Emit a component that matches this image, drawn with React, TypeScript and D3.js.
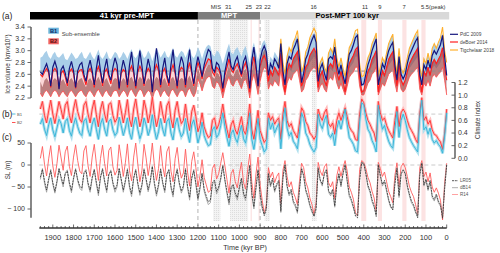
import React from "react";
import * as d3 from "d3";

// time grid (kyr BP), 10-kyr steps from 1960 to 0
const tA: number[] = d3.range(1960, -1, -10);
const tTig: number[] = d3.range(820, -1, -10);

// (a) ice volume (km3 x 10^7)
const pdc = [
2.64,2.6,2.7,2.78,2.66,2.4,2.72,2.82,2.7,2.35,
2.68,2.74,2.62,2.45,2.7,2.82,2.66,2.38,2.66,2.76,
2.8,2.6,2.48,2.7,2.84,2.66,2.42,2.7,2.92,2.66,
2.45,2.7,2.86,2.6,2.5,2.72,2.88,2.76,2.36,2.66,
2.84,2.7,2.42,2.76,2.98,2.66,2.4,2.7,3.0,2.74,
2.44,2.66,2.86,2.7,2.3,2.72,3.04,2.76,2.42,2.7,
2.88,2.6,2.45,2.76,3.02,2.66,2.4,2.72,2.9,2.78,
2.42,2.76,3.02,2.66,2.44,2.72,2.9,2.76,2.56,2.76,
2.9,3.02,2.98,2.7,2.64,2.8,2.76,2.62,2.36,2.64,
2.82,2.98,2.74,2.68,2.82,2.9,2.74,2.6,2.82,2.9,
2.7,2.36,2.84,3.06,2.76,2.4,2.84,3.0,3.08,2.98,
2.58,2.78,2.7,2.86,2.8,2.7,3.12,2.66,2.42,2.78,
2.9,2.86,3.02,3.1,3.2,2.86,2.46,2.62,2.86,2.94,
3.08,3.18,3.26,3.14,2.48,2.7,2.78,2.62,2.5,2.86,
2.9,2.86,3.06,2.78,2.6,2.76,2.58,2.44,2.7,2.94,
3.0,3.1,3.22,3.26,2.66,2.42,2.44,2.6,2.76,2.86,
3.0,3.1,3.2,2.42,2.6,2.78,2.7,2.86,3.0,3.08,
3.14,2.76,2.5,2.9,2.6,2.52,2.6,2.78,2.92,3.0,
3.08,3.16,3.22,2.6,2.42,2.76,2.68,2.84,2.7,2.92,
3.0,2.94,3.02,3.1,3.26,2.9,2.58];

const deBoer = [
2.6,2.56,2.64,2.7,2.63,2.38,2.65,2.7,2.64,2.36,
2.62,2.66,2.56,2.4,2.64,2.69,2.62,2.36,2.62,2.67,
2.68,2.55,2.42,2.64,2.7,2.62,2.38,2.64,2.73,2.62,
2.4,2.64,2.69,2.56,2.44,2.64,2.7,2.66,2.34,2.62,
2.68,2.64,2.38,2.66,2.74,2.62,2.36,2.64,2.74,2.66,
2.4,2.62,2.7,2.64,2.3,2.65,2.76,2.67,2.38,2.64,
2.7,2.55,2.4,2.66,2.76,2.62,2.36,2.64,2.72,2.68,
2.38,2.67,2.8,2.62,2.4,2.65,2.8,2.7,2.52,2.7,
2.78,2.86,2.84,2.64,2.58,2.72,2.68,2.58,2.3,2.58,
2.72,2.86,2.68,2.63,2.72,2.78,2.68,2.56,2.72,2.8,
2.64,2.3,2.74,2.9,2.68,2.4,2.74,2.86,2.92,2.82,
2.48,2.66,2.58,2.72,2.66,2.58,2.96,2.56,2.3,2.64,
2.78,2.72,2.86,2.92,2.98,2.72,2.4,2.5,2.72,2.78,
2.92,2.98,3.04,2.96,2.38,2.58,2.65,2.5,2.4,2.72,
2.78,2.72,2.92,2.65,2.5,2.65,2.5,2.3,2.58,2.78,
2.85,2.92,3.02,3.06,2.56,2.3,2.32,2.5,2.65,2.72,
2.85,2.92,3.0,2.3,2.5,2.66,2.58,2.72,2.85,2.92,
2.98,2.65,2.4,2.78,2.5,2.42,2.5,2.65,2.78,2.85,
2.92,2.98,3.04,2.5,2.3,2.65,2.58,2.72,2.58,2.78,
2.85,2.78,2.85,2.92,3.05,2.72,2.5];

const tigchelaar = [
2.8,2.76,3.2,2.8,2.6,2.9,
3.05,2.98,3.14,3.22,3.34,3.0,2.64,2.74,2.98,3.06,
3.22,3.3,3.38,3.3,2.62,2.8,2.88,2.72,2.64,2.96,
3.04,2.96,3.2,2.88,2.72,2.88,2.7,2.56,2.8,3.05,
3.12,3.22,3.34,3.36,2.78,2.56,2.58,2.72,2.88,2.96,
3.12,3.2,3.3,2.56,2.72,2.88,2.8,2.96,3.12,3.2,
3.28,2.86,2.62,3.04,2.7,2.62,2.72,2.88,3.04,3.12,
3.2,3.28,3.34,2.72,2.56,2.86,2.78,2.96,2.8,3.04,
3.12,3.04,3.14,3.22,3.4,3.0,2.8];

const b1Hi = [
2.88,2.9,2.96,3.0,2.9,2.86,2.94,2.98,2.9,2.88,
2.92,2.96,2.86,2.84,2.9,2.97,2.92,2.86,2.88,2.94,
2.98,2.88,2.86,2.92,2.98,2.9,2.85,2.93,3.02,2.9,
2.86,2.92,2.99,2.88,2.85,2.92,2.98,2.95,2.86,2.9,
2.98,2.93,2.86,2.96,3.03,2.91,2.87,2.93,3.04,2.96,
2.87,2.91,3.0,2.94,2.82,2.93,3.05,2.97,2.88,2.94,
3.0,2.9,2.88,2.97,3.05,2.92,2.88,2.95,3.0,2.97,
2.88,2.97,3.06,2.92,2.87,2.94,3.06,2.98,2.86,2.98,
3.06,3.1,3.08,2.94,2.9,3.0,2.98,2.9,2.78,2.9,
3.02,3.12,2.97,2.94,3.02,3.06,2.98,2.9,3.02,3.08,
2.94,2.78,3.02,3.14,2.98,2.82,3.0,3.12,3.18,3.1,
2.74,2.9,2.84,2.98,2.92,2.86,3.2,2.82,2.6,2.9,
3.04,2.96,3.12,3.2,3.26,2.96,2.65,2.72,2.96,3.04,
3.2,3.26,3.3,3.26,2.65,2.8,2.88,2.72,2.65,2.96,
3.04,2.96,3.2,2.88,2.72,2.88,2.72,2.55,2.8,3.04,
3.12,3.2,3.3,3.3,2.8,2.55,2.55,2.72,2.88,2.96,
3.12,3.2,3.3,2.55,2.72,2.88,2.8,2.96,3.12,3.2,
3.26,2.88,2.65,3.04,2.72,2.65,2.72,2.88,3.04,3.12,
3.2,3.26,3.3,2.72,2.55,2.88,2.8,2.96,2.8,3.04,
3.12,3.04,3.12,3.2,3.3,2.96,2.55];

const b1Lo = [
2.62,2.58,2.63,2.65,2.62,2.58,2.63,2.65,2.63,2.58,
2.62,2.64,2.6,2.58,2.63,2.65,2.62,2.58,2.62,2.64,
2.65,2.6,2.58,2.63,2.65,2.62,2.58,2.63,2.67,2.62,
2.58,2.63,2.65,2.6,2.58,2.63,2.65,2.64,2.58,2.62,
2.65,2.63,2.58,2.64,2.67,2.62,2.58,2.63,2.67,2.64,
2.58,2.62,2.65,2.63,2.55,2.63,2.67,2.64,2.58,2.63,
2.65,2.6,2.58,2.64,2.67,2.62,2.58,2.63,2.65,2.64,
2.58,2.64,2.7,2.62,2.58,2.63,2.72,2.65,2.58,2.65,
2.72,2.76,2.76,2.62,2.6,2.68,2.65,2.6,2.5,2.6,
2.68,2.76,2.65,2.62,2.68,2.72,2.65,2.6,2.68,2.72,
2.62,2.5,2.68,2.8,2.65,2.55,2.68,2.8,2.9,2.85,
2.5,2.6,2.55,2.65,2.6,2.55,2.85,2.55,2.4,2.6,
2.7,2.65,2.75,2.8,2.85,2.65,2.45,2.5,2.65,2.7,
2.8,2.85,2.9,2.85,2.45,2.55,2.6,2.5,2.45,2.65,
2.7,2.65,2.8,2.6,2.5,2.6,2.5,2.4,2.55,2.7,
2.75,2.8,2.9,2.9,2.55,2.4,2.4,2.5,2.6,2.65,
2.75,2.8,2.9,2.4,2.5,2.6,2.55,2.65,2.75,2.8,
2.85,2.6,2.45,2.7,2.5,2.45,2.5,2.6,2.7,2.75,
2.8,2.85,2.9,2.5,2.4,2.6,2.55,2.65,2.55,2.7,
2.75,2.7,2.75,2.8,2.9,2.65,2.4];

const b2Hi = [
2.48,2.38,2.5,2.54,2.48,2.38,2.5,2.54,2.5,2.38,
2.48,2.52,2.45,2.38,2.5,2.54,2.48,2.38,2.48,2.52,
2.54,2.45,2.38,2.5,2.54,2.48,2.38,2.5,2.56,2.48,
2.38,2.5,2.54,2.45,2.38,2.5,2.54,2.52,2.38,2.48,
2.54,2.5,2.38,2.52,2.56,2.48,2.38,2.5,2.56,2.52,
2.38,2.48,2.54,2.5,2.3,2.5,2.56,2.52,2.38,2.5,
2.54,2.45,2.38,2.52,2.56,2.48,2.38,2.5,2.54,2.52,
2.38,2.52,2.58,2.48,2.38,2.5,2.7,2.6,2.48,2.6,
2.7,2.76,2.76,2.56,2.52,2.64,2.6,2.52,2.32,2.52,
2.64,2.76,2.6,2.56,2.64,2.7,2.6,2.52,2.64,2.7,
2.56,2.32,2.64,2.82,2.6,2.4,2.64,2.93,3.02,2.98,
2.52,2.66,2.6,2.73,2.66,2.6,2.98,2.6,2.34,2.66,
2.8,2.73,2.87,2.93,2.98,2.73,2.44,2.52,2.73,2.8,
2.93,2.98,3.02,2.98,2.44,2.6,2.66,2.52,2.44,2.73,
2.8,2.73,2.93,2.66,2.52,2.66,2.52,2.34,2.6,2.8,
2.87,2.93,3.02,3.02,2.6,2.34,2.34,2.52,2.66,2.73,
2.87,2.93,3.02,2.34,2.52,2.66,2.6,2.73,2.87,2.93,
2.98,2.66,2.44,2.8,2.52,2.44,2.52,2.66,2.8,2.87,
2.93,2.98,3.02,2.52,2.34,2.66,2.6,2.73,2.6,2.8,
2.87,2.8,2.87,2.93,3.02,2.73,2.34];

const b2Lo = [
2.28,2.22,2.3,2.33,2.28,2.22,2.3,2.33,2.3,2.22,
2.28,2.32,2.26,2.22,2.3,2.33,2.28,2.22,2.28,2.32,
2.33,2.26,2.22,2.3,2.33,2.28,2.22,2.3,2.35,2.28,
2.22,2.3,2.33,2.26,2.22,2.3,2.33,2.32,2.22,2.28,
2.33,2.3,2.22,2.32,2.35,2.28,2.22,2.3,2.35,2.32,
2.22,2.28,2.33,2.3,2.18,2.3,2.35,2.32,2.22,2.3,
2.33,2.26,2.22,2.32,2.35,2.28,2.22,2.3,2.33,2.32,
2.22,2.32,2.37,2.28,2.22,2.3,2.52,2.44,2.32,2.44,
2.52,2.56,2.56,2.4,2.36,2.48,2.44,2.36,2.2,2.36,
2.48,2.56,2.44,2.4,2.48,2.52,2.44,2.36,2.48,2.52,
2.4,2.2,2.48,2.6,2.44,2.26,2.48,2.64,2.72,2.68,
2.35,2.45,2.4,2.5,2.45,2.4,2.68,2.4,2.25,2.45,
2.55,2.5,2.6,2.64,2.68,2.5,2.3,2.35,2.5,2.55,
2.64,2.68,2.72,2.68,2.3,2.4,2.45,2.35,2.3,2.5,
2.55,2.5,2.64,2.45,2.35,2.45,2.35,2.25,2.4,2.55,
2.6,2.64,2.72,2.72,2.4,2.25,2.25,2.35,2.45,2.5,
2.6,2.64,2.72,2.25,2.35,2.45,2.4,2.5,2.6,2.64,
2.68,2.45,2.3,2.55,2.35,2.3,2.35,2.45,2.55,2.6,
2.64,2.68,2.72,2.35,2.25,2.45,2.4,2.5,2.4,2.55,
2.6,2.55,2.6,2.64,2.72,2.5,2.25];

// (b) climate index
const ciB1 = [
.54,.63,.46,.36,.53,.64,.45,.34,.48,.62,
.55,.4,.58,.63,.44,.35,.53,.64,.5,.4,
.36,.59,.63,.45,.35,.54,.64,.46,.3,.54,
.63,.46,.35,.58,.62,.45,.36,.41,.65,.52,
.36,.48,.64,.41,.3,.53,.65,.46,.31,.41,
.64,.53,.36,.47,.69,.46,.3,.42,.63,.46,
.35,.58,.63,.4,.29,.53,.64,.45,.34,.4,
.63,.4,.25,.53,.61,.45,.24,.37,.57,.36,
.27,.2,.22,.45,.5,.33,.38,.52,.72,.5,
.33,.19,.39,.45,.32,.25,.4,.52,.31,.24,
.45,.72,.3,.14,.37,.63,.3,.2,.1,.15,
.64,.46,.56,.4,.48,.55,.15,.58,.8,.48,
.35,.41,.27,.22,.15,.42,.72,.63,.4,.33,
.22,.15,.1,.17,.7,.54,.47,.6,.68,.38,
.33,.4,.2,.47,.6,.46,.62,.78,.54,.33,
.28,.22,.12,.1,.58,.88,.84,.62,.46,.4,
.28,.21,.1,.84,.62,.46,.52,.38,.27,.2,
.16,.46,.74,.33,.6,.7,.6,.45,.33,.26,
.2,.15,.1,.65,.92,.45,.5,.38,.48,.3,
.24,.28,.22,.18,.08,.35,.72];

const ciB2 = [
.78,.9,.68,.56,.75,.92,.7,.55,.72,.9,
.77,.62,.84,.9,.68,.56,.78,.93,.74,.62,
.57,.84,.9,.7,.56,.78,.92,.69,.5,.77,
.9,.7,.57,.85,.88,.68,.57,.63,.92,.76,
.56,.72,.93,.62,.5,.78,.94,.7,.5,.63,
.92,.78,.56,.71,.97,.69,.5,.64,.9,.7,
.56,.83,.9,.62,.48,.76,.9,.68,.55,.6,
.86,.6,.44,.74,.84,.66,.42,.52,.72,.5,
.4,.33,.35,.6,.64,.46,.53,.66,.86,.63,
.46,.32,.53,.6,.45,.38,.52,.66,.44,.38,
.58,.86,.45,.3,.52,.76,.44,.34,.25,.3,
.72,.6,.66,.54,.6,.64,.3,.7,.9,.6,
.5,.55,.44,.38,.32,.56,.8,.74,.58,.52,
.4,.36,.3,.36,.78,.66,.6,.72,.78,.55,
.5,.56,.38,.6,.72,.6,.7,.8,.66,.5,
.44,.4,.3,.28,.7,.94,.88,.72,.6,.54,
.46,.4,.26,.9,.72,.6,.64,.52,.44,.38,
.32,.6,.82,.5,.72,.78,.72,.6,.5,.44,
.38,.3,.24,.72,.96,.6,.66,.54,.6,.45,
.38,.36,.3,.26,.14,.4,.78];

// (c) sea level (m)
const lr05 = [
-28,-10,-36,-57,-31,-13,-40,-60,-37,-9,
-27,-44,-20,-14,-40,-58,-29,-10,-33,-48,
-53,-20,-13,-41,-57,-28,-11,-39,-64,-27,
-10,-36,-58,-21,-14,-40,-56,-45,-9,-32,
-57,-35,-11,-47,-66,-29,-12,-41,-63,-44,
-11,-31,-56,-36,-4,-40,-65,-44,-10,-39,
-58,-20,-12,-48,-67,-28,-11,-40,-59,-47,
-10,-48,-74,-29,-13,-41,-76,-50,-20,-55,
-70,-84,-80,-40,-34,-60,-50,-30,-2,-33,
-60,-85,-50,-44,-63,-74,-50,-30,-64,-75,
-40,-1,-64,-95,-50,-12,-65,-94,-115,-100,
-20,-46,-30,-58,-43,-35,-105,-30,0,-47,
-66,-55,-82,-90,-106,-55,-9,-24,-56,-70,
-90,-103,-117,-100,-8,-34,-44,-20,-12,-58,
-66,-55,-93,-44,-21,-46,-20,0,-35,-67,
-78,-95,-116,-120,-35,5,3,-20,-46,-58,
-79,-93,-117,0,-24,-44,-35,-56,-78,-94,
-102,-44,-8,-70,-21,-12,-20,-46,-66,-82,
-90,-106,-120,-24,4,-45,-32,-55,-35,-70,
-78,-66,-82,-90,-121,-55,0];

const dB14 = [
-33,-8,-42,-62,-35,-10,-44,-64,-40,-7,
-31,-50,-18,-11,-44,-63,-33,-8,-36,-53,
-58,-17,-10,-45,-62,-31,-9,-43,-70,-30,
-7,-40,-63,-24,-11,-44,-62,-50,-7,-35,
-62,-39,-8,-52,-72,-32,-9,-45,-69,-48,
-8,-35,-61,-40,-2,-44,-71,-49,-8,-43,
-63,-23,-9,-53,-73,-31,-8,-44,-64,-52,
-7,-53,-80,-32,-10,-45,-81,-55,-18,-60,
-76,-90,-86,-44,-37,-66,-55,-33,0,-36,
-66,-91,-55,-47,-68,-80,-54,-33,-69,-81,
-44,0,-70,-100,-55,-10,-70,-100,-112,-96,
-18,-50,-34,-62,-47,-38,-108,-28,2,-50,
-70,-60,-86,-95,-110,-52,-6,-26,-60,-74,
-94,-108,-114,-96,-5,-36,-48,-18,-9,-62,
-70,-58,-96,-46,-19,-50,-18,2,-38,-72,
-82,-98,-112,-115,-30,6,4,-18,-50,-62,
-84,-96,-112,2,-26,-48,-38,-60,-82,-97,
-100,-40,-6,-74,-18,-10,-18,-50,-70,-86,
-94,-108,-116,-20,5,-48,-35,-58,-38,-74,
-82,-70,-86,-94,-116,-50,1];

const r14 = [
15,42,2,-25,14,44,-2,-28,3,45,
16,-12,30,43,-3,-24,18,46,10,-14,
-20,32,44,-2,-26,18,47,4,-35,15,
45,3,-25,33,41,-4,-23,-12,46,14,
-26,5,48,-13,-36,18,50,2,-38,-12,
47,16,-24,6,50,-1,-35,-8,44,-3,
-27,30,42,-14,-38,14,40,-5,-30,-18,
36,-16,-48,8,30,-6,-50,-24,12,-28,
-45,-62,-58,-8,2,-32,-20,4,28,-2,
-33,-64,-20,-10,-38,-52,-20,6,-40,-55,
-10,25,-40,-76,-20,18,-45,-80,-110,-90,
-6,-28,-16,-40,-26,-18,-88,-12,10,-26,
-50,-38,-62,-74,-90,-36,4,-6,-38,-52,
-75,-90,-112,-85,6,-14,-24,-4,3,-40,
-50,-38,-76,-24,-4,-26,-6,10,-14,-50,
-62,-78,-108,-116,-10,10,6,-8,-28,-40,
-60,-75,-105,6,-8,-26,-16,-38,-60,-72,
-86,-24,5,-50,-4,4,-6,-26,-48,-62,
-72,-90,-112,-6,10,-26,-16,-38,-18,-50,
-62,-52,-64,-80,-125,-40,4];

// axis ticks & annotations
const iceTicks = [2.2, 2.4, 2.6, 2.8, 3.0, 3.2, 3.4];
const ciTicks = [0, 0.2, 0.4, 0.6, 0.8, 1.0, 1.2];
const slTicks = [50, 0, -50, -100];
const timeLabels = [1900, 1800, 1700, 1600, 1500, 1400, 1300, 1200, 1100, 1000, 900, 800, 700, 600, 500, 400, 300, 200, 100, 0];
const grayBands = [[1127, 1092], [1045, 958], [878, 853], [650, 628]];
const pinkBands = [[946, 940], [908, 902], [412, 388], [332, 312], [214, 194], [122, 102]];
const misLabels = [
  { t: 1054, s: "31" }, { t: 955, s: "25" }, { t: 906, s: "23" }, { t: 864, s: "22" },
  { t: 642, s: "16" }, { t: 394, s: "11" }, { t: 322, s: "9" }, { t: 206, s: "7" },
];
const eras = [
  { from: 2010, to: 1200, label: "41 kyr pre-MPT", fill: "#000000", color: "#ffffff", lx: 1542 },
  { from: 1200, to: 900, label: "MPT", fill: "#7d7d7d", color: "#ffffff", lx: 1050 },
  { from: 900, to: -12, label: "Post-MPT 100 kyr", fill: "#d9d9d9", color: "#000000", lx: 480 },
];

const x = d3.scaleLinear().domain([2010, 0]).range([30, 446.7]);
const yA = d3.scaleLinear().domain([2.2, 3.4]).range([98, 27]);
const yB = d3.scaleLinear().domain([0, 1.2]).range([158.3, 82.5]);
const yC = d3.scaleLinear().domain([-100, 50]).range([209, 143]);

const FONT = "Liberation Sans, Arial, Helvetica, sans-serif";

function lineOf(ts: number[], vals: number[], y: (v: number) => number) {
  return d3.line<number>().x((_, i) => x(ts[i])).y((d) => y(d))(vals) || "";
}
function areaOf(ts: number[], lo: number[], hi: number[], y: (v: number) => number) {
  return d3.area<number>().x((_, i) => x(ts[i])).y0((_, i) => y(lo[i])).y1((d) => y(d))(hi) || "";
}

export default function App() {
  const x0 = x(1965);
  const x1 = x(0);
  return (
    <svg width={500} height={253} style={{ position: "absolute", left: 0, top: 0, background: "#fff" }} fontFamily={FONT}>
      <defs>
        <pattern id="dots" width="2" height="2" patternUnits="userSpaceOnUse">
          <rect width="2" height="2" fill="#f3f3f3" />
          <rect width="1" height="1" fill="#dddddd" />
        </pattern>
      </defs>

      {/* background episode bands */}
      {grayBands.map(([a, b], i) => (
        <rect key={"g" + i} x={x(a)} y={20} width={x(b) - x(a)} height={201} fill="url(#dots)" />
      ))}
      {pinkBands.map(([a, b], i) => (
        <rect key={"p" + i} x={x(a)} y={20} width={x(b) - x(a)} height={201} fill="#fce3e3" />
      ))}
      {[1200, 900].map((t) => (
        <line key={t} x1={x(t)} x2={x(t)} y1={20} y2={226} stroke="#a0a0a0" strokeWidth={0.8} strokeDasharray="4,3" />
      ))}

      {/* top era bar */}
      {eras.map((e) => (
        <g key={e.label}>
          <rect x={x(e.from)} y={12} width={x(e.to) - x(e.from)} height={7.5} fill={e.fill} />
          <text x={x(e.lx)} y={18.3} fontSize={7.6} fontWeight="bold" fill={e.color} textAnchor="middle">{e.label}</text>
        </g>
      ))}
      <text x={221} y={8.5} fontSize={5.8} fill="#333" textAnchor="end">MIS</text>
      {misLabels.map((m) => (
        <text key={m.s} x={x(m.t)} y={8.5} fontSize={5.8} fill="#333" textAnchor="middle">{m.s}</text>
      ))}
      <text x={x(124)} y={8.5} fontSize={5.8} fill="#333">5.5(peak)</text>

      {/* panel (a) */}
      <path d={areaOf(tA, b1Lo, b1Hi, yA)} fill="#a9cee8" />
      <path d={areaOf(tA, b2Lo, deBoer, yA)} fill="rgba(245,110,110,0.28)" />
      <path d={areaOf(tA, b2Lo, b2Hi, yA)} fill="rgba(135,55,55,0.55)" />
      <path d={lineOf(tA, b2Lo, yA)} fill="none" stroke="#ff4a4a" strokeWidth={0.8} />
      <line x1={x0} x2={x1} y1={yA(2.655)} y2={yA(2.655)} stroke="#8a8a8a" strokeWidth={0.9} strokeDasharray="4,3" />
      <path d={lineOf(tTig, tigchelaar, yA)} fill="none" stroke="#ffb02e" strokeWidth={1.1} />
      <path d={lineOf(tA, deBoer, yA)} fill="none" stroke="#ff1f1f" strokeWidth={1.2} />
      <path d={lineOf(tA, pdc, yA)} fill="none" stroke="#15167d" strokeWidth={1.2} />

      {/* panel (b) */}
      <line x1={x0} x2={x1} y1={yB(0.7)} y2={yB(0.7)} stroke="#bdbdbd" strokeWidth={0.8} strokeDasharray="4,3" />
      <path d={lineOf(tA, ciB2, yB)} fill="none" stroke="#ffbcbc" strokeWidth={3} />
      <path d={lineOf(tA, ciB1, yB)} fill="none" stroke="#b0e0ee" strokeWidth={3} />
      <path d={lineOf(tA, ciB2, yB)} fill="none" stroke="#ff3d3d" strokeWidth={1} />
      <path d={lineOf(tA, ciB1, yB)} fill="none" stroke="#3bb7da" strokeWidth={1} />

      {/* panel (c) */}
      <line x1={x0} x2={x1} y1={yC(0)} y2={yC(0)} stroke="#bdbdbd" strokeWidth={0.8} strokeDasharray="4,3" />
      <path d={lineOf(tA, r14, yC)} fill="none" stroke="#ff5c5c" strokeWidth={0.9} />
      <path d={lineOf(tA, dB14, yC)} fill="none" stroke="#9a9a9a" strokeWidth={0.8} />
      <path d={lineOf(tA, lr05, yC)} fill="none" stroke="#2e2e2e" strokeWidth={0.8} strokeDasharray="2,0.8" />

      {/* axis (a) left */}
      <line x1={31} x2={31} y1={yA(3.4)} y2={yA(2.2)} stroke="#555" strokeWidth={1.4} />
      {iceTicks.map((v) => (
        <g key={v}>
          <line x1={27.5} x2={31} y1={yA(v)} y2={yA(v)} stroke="#555" strokeWidth={0.9} />
          <text x={25} y={yA(v) + 2.4} fontSize={7} fill="#333" textAnchor="end">{v.toFixed(1)}</text>
        </g>
      ))}
      <text transform={`translate(9.5,${64}) rotate(-90)`} fontSize={6.3} fill="#333" textAnchor="middle">Ice volume (km³x10⁷)</text>

      {/* axis (b) right */}
      <line x1={455} x2={455} y1={yB(1.2)} y2={yB(0)} stroke="#555" strokeWidth={1.4} />
      {ciTicks.map((v) => (
        <g key={v}>
          <line x1={451.5} x2={455} y1={yB(v)} y2={yB(v)} stroke="#555" strokeWidth={0.9} />
          <text x={458} y={yB(v) + 2.4} fontSize={7} fill="#333">{v.toFixed(1)}</text>
        </g>
      ))}
      <text transform={`translate(480,${120}) rotate(-90)`} fontSize={6.3} fill="#333" textAnchor="middle">Climate index</text>

      {/* axis (c) left */}
      <line x1={31} x2={31} y1={yC(50)} y2={yC(-120)} stroke="#555" strokeWidth={1.4} />
      {slTicks.map((v) => (
        <g key={v}>
          <line x1={27.5} x2={31} y1={yC(v)} y2={yC(v)} stroke="#555" strokeWidth={0.9} />
          <text x={25} y={yC(v) + 2.4} fontSize={7} fill="#333" textAnchor="end">{v < 0 ? "− " + Math.abs(v) : String(v)}</text>
        </g>
      ))}
      <text transform={`translate(9.5,${170}) rotate(-90)`} fontSize={6.3} fill="#333" textAnchor="middle">SL (m)</text>

      {/* time axis */}
      <line x1={x(1965)} x2={x(0)} y1={228} y2={228} stroke="#333" strokeWidth={1.3} />
      {d3.range(0, 1961, 20).map((t) => (
        <line key={t} x1={x(t)} x2={x(t)} y1={228} y2={t % 100 === 0 ? 224.5 : 226} stroke="#333" strokeWidth={0.7} />
      ))}
      {timeLabels.map((t) => (
        <text key={t} x={x(t)} y={240} fontSize={7.5} fill="#333" textAnchor="middle">{t}</text>
      ))}
      <text x={245} y={250} fontSize={7.2} fill="#333" textAnchor="middle">Time (kyr BP)</text>

      {/* panel labels */}
      <text x={2} y={19} fontSize={8.5} fill="#222">(a)</text>
      <text x={2} y={117} fontSize={8.5} fill="#222">(b)</text>
      <text x={2} y={140} fontSize={8.5} fill="#222">(c)</text>

      {/* legend (a) sub-ensemble */}
      <rect x={48.3} y={27.7} width={10.5} height={6} fill="#6cb4dc" />
      <text x={53.5} y={32.6} fontSize={5.6} fontWeight="bold" fill="#0d2a66" textAnchor="middle">B1</text>
      <rect x={48.3} y={38.3} width={10.5} height={6} fill="#f06464" />
      <text x={53.5} y={43.2} fontSize={5.6} fontWeight="bold" fill="#5a0d0d" textAnchor="middle">B2</text>
      <text x={61.7} y={36.4} fontSize={5.9} fill="#444">Sub-ensemble</text>

      {/* legend (a) right */}
      {[
        { s: "PdC 2009", c: "#15167d", y: 34.3 },
        { s: "deBoer 2014", c: "#ff1f1f", y: 42 },
        { s: "Tigchelaar 2018", c: "#ffb02e", y: 50 },
      ].map((l) => (
        <g key={l.s}>
          <line x1={450} x2={458} y1={l.y} y2={l.y} stroke={l.c} strokeWidth={1.2} />
          <text x={460} y={l.y + 1.7} fontSize={4.8} fill="#444">{l.s}</text>
        </g>
      ))}

      {/* legend (b) */}
      <line x1={12} x2={15.5} y1={114} y2={114} stroke="#3bb7da" strokeWidth={0.9} />
      <text x={17} y={115.5} fontSize={4.2} fill="#555">B1</text>
      <line x1={12} x2={15.5} y1={122.5} y2={122.5} stroke="#ff3d3d" strokeWidth={0.9} />
      <text x={17} y={124} fontSize={4.2} fill="#555">B2</text>

      {/* legend (c) */}
      {[
        { s: "LR05", c: "#2e2e2e", y: 180.7, dash: "2,0.8" },
        { s: "dB14", c: "#9a9a9a", y: 187.7, dash: "" },
        { s: "R14", c: "#ff8a8a", y: 194.5, dash: "" },
      ].map((l) => (
        <g key={l.s}>
          <line x1={452} x2={458} y1={l.y} y2={l.y} stroke={l.c} strokeWidth={0.8} strokeDasharray={l.dash || undefined} />
          <text x={460} y={l.y + 1.6} fontSize={4.6} fill="#555">{l.s}</text>
        </g>
      ))}
    </svg>
  );
}
